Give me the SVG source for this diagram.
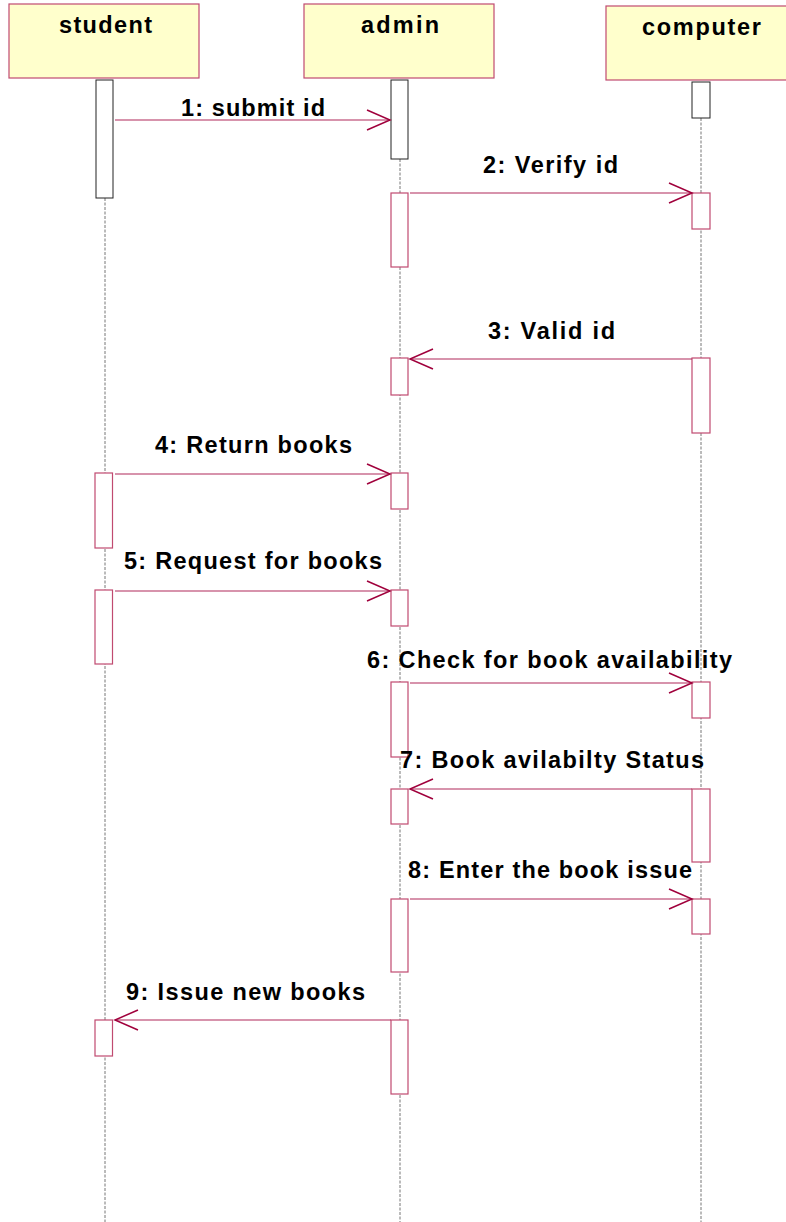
<svg xmlns="http://www.w3.org/2000/svg" width="786" height="1222" viewBox="0 0 786 1222">
<defs>
<style>
.hdr{fill:#ffffcc;stroke:#c04a70;stroke-width:1.2}
.hl{font-family:"Liberation Sans",Arial,sans-serif;font-weight:bold;font-size:23.5px;fill:#000}
.lbl{font-family:"Liberation Sans",Arial,sans-serif;font-weight:bold;font-size:23.5px;fill:#000}
.life{stroke:#777;stroke-width:1;stroke-dasharray:3,1.5;fill:none}
.act0{fill:#fff;stroke:#222;stroke-width:1}
.act{fill:#fff;stroke:#c04a70;stroke-width:1.2}
.msg{stroke:#b0285a;stroke-width:1.2;fill:none}
.head{stroke:#a0003c;stroke-width:1.5;fill:none}
</style>
</defs>
<rect width="786" height="1222" fill="#fff"/>
<g id="lifelines">
<line class="life" x1="105" y1="198" x2="105" y2="1222"/>
<line class="life" x1="400" y1="159" x2="400" y2="1222"/>
<line class="life" x1="701" y1="118" x2="701" y2="1222"/>
</g>
<g id="student">
<rect class="hdr" x="9" y="4" width="190" height="74"/>
<text class="hl" x="59" y="33" textLength="93" lengthAdjust="spacing">student</text>
<rect class="act0" x="96" y="80" width="17" height="118"/>
<rect class="act" x="95" y="473" width="17.5" height="75"/>
<rect class="act" x="95" y="590" width="17.5" height="74"/>
<rect class="act" x="95" y="1020" width="17.5" height="36"/>
</g>
<g id="admin">
<rect class="hdr" x="304" y="4" width="190" height="74"/>
<text class="hl" x="361" y="33" textLength="78" lengthAdjust="spacing">admin</text>
<rect class="act0" x="391" y="80" width="17" height="79"/>
<rect class="act" x="391" y="193" width="17" height="74"/>
<rect class="act" x="391" y="358" width="17" height="37"/>
<rect class="act" x="391" y="473" width="17" height="36"/>
<rect class="act" x="391" y="590" width="17" height="36"/>
<rect class="act" x="391" y="682" width="17" height="75"/>
<rect class="act" x="391" y="789" width="17" height="35"/>
<rect class="act" x="391" y="899" width="17" height="73"/>
<rect class="act" x="391" y="1020" width="17" height="74"/>
</g>
<g id="computer">
<rect class="hdr" x="606" y="6" width="190" height="74"/>
<text class="hl" x="642" y="35" textLength="119" lengthAdjust="spacing">computer</text>
<rect class="act0" x="692" y="82" width="18" height="36"/>
<rect class="act" x="692" y="193" width="18" height="36"/>
<rect class="act" x="692" y="358" width="18" height="75"/>
<rect class="act" x="692" y="682" width="18" height="36"/>
<rect class="act" x="692" y="789" width="18" height="73"/>
<rect class="act" x="692" y="899" width="18" height="35"/>
</g>
<g id="connectors">
<line class="msg" x1="115" y1="120" x2="390" y2="120"/>
<polyline class="head" points="367,110 390,120 367,130"/>
<line class="msg" x1="410" y1="193" x2="692" y2="193"/>
<polyline class="head" points="669,183 692,193 669,203"/>
<line class="msg" x1="692" y1="359" x2="410" y2="359"/>
<polyline class="head" points="433,349 410,359 433,369"/>
<line class="msg" x1="115" y1="474" x2="390" y2="474"/>
<polyline class="head" points="367,464 390,474 367,484"/>
<line class="msg" x1="115" y1="591" x2="390" y2="591"/>
<polyline class="head" points="367,581 390,591 367,601"/>
<line class="msg" x1="410" y1="683" x2="692" y2="683"/>
<polyline class="head" points="669,673 692,683 669,693"/>
<line class="msg" x1="692" y1="789" x2="410" y2="789"/>
<polyline class="head" points="433,779 410,789 433,799"/>
<line class="msg" x1="410" y1="899" x2="692" y2="899"/>
<polyline class="head" points="669,889 692,899 669,909"/>
<line class="msg" x1="391" y1="1020" x2="115" y2="1020"/>
<polyline class="head" points="138,1010 115,1020 138,1030"/>
</g>
<g id="labels">
<text class="lbl" x="181" y="116" textLength="144" lengthAdjust="spacing">1: submit id</text>
<text class="lbl" x="483" y="173" textLength="135" lengthAdjust="spacing">2: Verify id</text>
<text class="lbl" x="488" y="339" textLength="127" lengthAdjust="spacing">3: Valid id</text>
<text class="lbl" x="155" y="453" textLength="197" lengthAdjust="spacing">4: Return books</text>
<text class="lbl" x="124" y="569" textLength="258" lengthAdjust="spacing">5: Request for books</text>
<text class="lbl" x="367" y="668" textLength="365" lengthAdjust="spacing">6: Check for book availability</text>
<text class="lbl" x="400" y="768" textLength="304" lengthAdjust="spacing">7: Book avilabilty Status</text>
<text class="lbl" x="408" y="878" textLength="284" lengthAdjust="spacing">8: Enter the book issue</text>
<text class="lbl" x="126" y="1000" textLength="239" lengthAdjust="spacing">9: Issue new books</text>
</g>
</svg>
